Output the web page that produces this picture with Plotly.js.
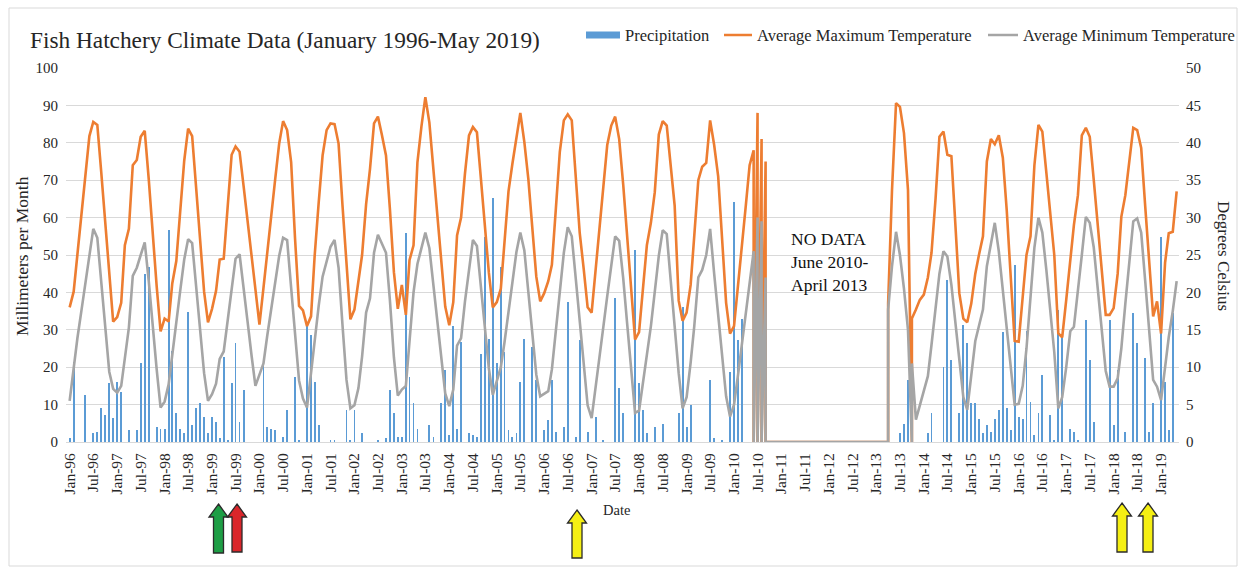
<!DOCTYPE html>
<html>
<head>
<meta charset="utf-8">
<script src="https://cdn.plot.ly/plotly-3.0.1.min.js"></script>
<style>html,body{margin:0;padding:0;background:#fff;} #chart{width:1245px;height:573px;}</style>
</head>
<body>
<div id="chart"></div>
<script>
// ---------- DATA ----------
const firstYear = 1996;
const monthCount = 281; // Jan 1996 .. May 2019
const months = [];
for (let k = 0; k < monthCount; k++) {
  const y = firstYear + Math.floor(k / 12), m = (k % 12) + 1;
  months.push(y + '-' + (m < 10 ? '0' + m : m) + '-01');
}

// Precipitation, mm per month (Jan 1996 .. May 2019)
const precip = [
 1,21.5,0,0,12.6,0,2.3,2.8,9,7.3,15.7,6.4,
 16,13.3,0,3.2,0,3.2,21,45,46.8,0,4,3.6,
 3.6,56.7,24.2,7.7,3.6,2.3,34.8,4.5,9,10.3,6.7,2.3,
 6.7,5.4,1,22.8,0.5,15.7,26.4,5.4,14,0,0,0,
 0,21.5,4,3.6,3.2,0,1.4,8.6,0,17.5,0.5,0,
 31.7,28.6,16,4.5,0,0,0.5,0.5,0,0,8.6,0.5,
 8.6,0,2.3,0,0,0,0.5,0,1,14,7.7,1.4,
 1.4,55.8,17.5,10.3,3.6,0,0,4.5,1.4,0,10.3,19.3,
 1.8,31,3.6,26.7,0,2.3,1.8,1.4,23.5,54.8,27.6,65.2,
 21,46.8,24,3.2,1.4,2.3,16,27.6,0,25.5,16.6,0,
 3.2,5.9,16.6,2.8,0,4,37.5,0,1.4,27.2,0,2.8,
 0,6.7,0,0.5,0,0,38.4,14.4,7.7,0,0,51.3,
 15.7,8.6,2.3,0,4,0,4.9,0,0,0,7.7,36.2,
 4,10,0,0,0,0,16.6,1,0,0.5,0,18.7,
 64.3,27.2,33,0,0,0,0,0,0,0,0,0,
 0,0,0,0,0,0,0,0,0,0,0,0,
 0,0,0,0,0,0,0,0,0,0,0,0,
 0,0,0,0,0,0,2.3,4.9,16.6,0,0,0,
 0,2.3,7.7,0,0,20,43.3,22,0,7.7,31.2,26.4,
 10.3,10.3,6.2,2.3,4.5,2.8,6.2,8.6,29.4,9,3.2,47.3,
 6.7,6.2,29.8,10.7,1.8,7.7,17.8,0,7.3,0.5,35.3,28.6,
 0,3.6,2.8,0.5,0,32.6,22,5.4,0,0,0,32.6,
 4.5,19.3,0,2.8,0,34.4,26.4,0,22.4,2.8,10.3,0,
 54.8,16,3.2,34.4,0
];

// Average maximum temperature, degrees C
const maxTemp = [
 18,20.1,25.1,30.7,36.2,40.9,42.8,42.4,35.9,29,22.3,16.1,
 16.7,18.6,26.3,28.5,37,37.7,40.8,41.6,35.1,27.9,20.8,14.8,
 16.5,16.1,21.2,24.2,30.6,37.6,41.9,40.9,33.9,27,20.1,16,
 17.8,20.2,24.4,24.5,31.5,38.4,39.5,38.8,34.2,29.5,24.9,20.2,
 15.7,20.6,25.5,30.2,35.1,39.9,42.9,41.7,37.4,27.2,18.2,17.6,
 15.5,16.8,24.9,32,38.3,41.7,42.6,42.5,39.9,31.7,23.8,16.4,
 17.7,21.3,25,31.8,36.5,42.6,43.5,41,38.3,31.2,22.7,17.8,
 21,17,24.3,26.3,37.4,42.2,46.1,42.7,36.3,29.7,23.8,18.1,
 15.6,18.7,27.6,30,35.9,41,42.1,41.4,35.1,28.8,22.6,18,
 18.7,20.5,26.9,33.5,37.2,40.8,44,40.1,35.1,28.7,22.1,18.8,
 19.9,21.5,23.7,31.3,38.8,43,43.8,43,35,28,23.1,18,
 17.3,22.8,28.5,34.1,39.7,42.3,43.5,40.5,34.4,27.6,20.5,13.7,
 14.7,20.6,26.3,29.3,33.4,41.1,42.9,42.3,36.9,31.6,18.9,16.2,
 17.3,21,27.6,35,36.8,37.3,43,39.7,35.5,27,18.6,14.5,
 15.5,21,26.5,31.5,37,39,44,40.5,37.5,0,0,0,
 0,0,0,0,0,0,0,0,0,0,0,0,
 0,0,0,0,0,0,0,0,0,0,0,0,
 0,0,0,0,33.7,45.3,44.8,41.3,33.7,0,17.7,19,
 19.7,22,25.3,32.5,40.8,41.5,38.4,38.2,29,19.9,16.5,16,
 18.5,22.5,25,27.5,37.5,40.5,39.8,41,38,31,22,13.5,
 13.4,19,25,27.5,37,42.4,41.5,36,30.5,25,14.5,14,
 19,24.5,29,33,41,42,40.8,35,29,23,17,17,
 17.9,22.5,30.1,33,37.5,42,41.7,39.3,31.5,24,16.8,18.8,
 14.5,24,27.9,28.1,33.5
];

// Average minimum temperature, degrees C
const minTemp = [
 5.5,10.1,13.9,17.6,21.2,24.9,28.5,27.3,21.4,15.3,9.4,7.1,
 6.6,7.5,11.1,15.3,22.2,23.3,25,26.7,21.5,15.5,9.7,4.6,
 5.4,7.7,11.8,16,20.2,24.4,27.1,26.6,20.7,15,9.2,5.5,
 6.4,7.8,11.1,12.1,16.2,20.4,24.5,25.1,20.9,16.2,11.6,7.5,
 9,10.5,14.2,17.7,21.4,24.9,27.3,27,20.6,14.5,8.2,5.8,
 4.6,9.2,13.7,18.2,22.1,24,26.1,27,23.3,15.7,8.3,4.5,
 4.9,7.2,11.4,17.3,19.2,25.3,27.7,26.5,25.3,19,11.3,6.2,
 7,7.5,13.5,20,23.8,26.1,28,25.9,20.9,16.1,11.2,6.5,
 4.8,7,12.9,13.9,18.8,23.1,27,26.2,20.6,15.1,9.8,6.3,
 8,10,13.3,17.3,21.3,25.4,28,25.6,20,14.6,9,6.1,
 6.4,6.8,9.7,14.9,20.1,25.3,28.7,27.5,21.8,16.1,10.6,4.9,
 3.2,7.2,11.3,15.4,19.5,23.6,27.5,26.9,21.9,15.9,9.8,3.9,
 4.2,8,11.7,15.5,20.1,24.9,28.3,27.8,21.5,15.4,9.2,4.5,
 6,10.6,15.5,22,23,25,28.5,22.5,17,11.5,6.1,3.4,
 5,9,13,17,21,25.5,30,29.5,22,0,0,0,
 0,0,0,0,0,0,0,0,0,0,0,0,
 0,0,0,0,0,0,0,0,0,0,0,0,
 0,0,0,0,23.5,28.1,25,20.5,15,0,3,4.8,
 6.8,8.8,13,18.3,22.5,25.5,24.8,21,16,11,6,4.3,
 9,13.5,15.5,17.7,23.5,26.5,29.3,25.5,20.5,15,10,5,
 5.1,7.5,12.5,19,26,30,28,23,17.5,12,4.5,6,
 10,14.8,15.4,20,25,30.1,29.3,26,20.5,15,9.5,7.4,
 7.4,8.5,12.5,18.5,24.4,29.5,29.9,28,21.5,15,8.3,7.4,
 5.6,10,14,17.5,21.5
];

// Months that hold several readings (drawn at the same date)
const multiMonths = ['2010-06-01','2010-07-01','2010-08-01','2010-09-01','2013-04-01','2013-10-01'];
const multiMax = [[0,39,0],[0,44,0],[0,40.5,0],[0,37.5,0],[18.5],[16.5]];
const multiMin = [[0,25.5,0],[0,30,0],[0,29.5,0],[0,22,0],[17.7],[10.5]];

// Legend labels
const seriesNames = ['Precipitation', 'Average Maximum Temperature', 'Average Minimum Temperature'];
const seriesColors = ['#5B9BD5', '#ED7D31', '#A5A5A5'];

// ---------- BUILD ----------
function buildLine(vals, extra) {
  const x = [], y = [];
  for (let k = 0; k < months.length; k++) {
    x.push(months[k]); y.push(vals[k]);
    const j = multiMonths.indexOf(months[k]);
    if (j >= 0) extra[j].forEach(v => { x.push(months[k]); y.push(v); });
  }
  return {x, y};
}
const maxLine = buildLine(maxTemp, multiMax);
const minLine = buildLine(minTemp, multiMin);

const FONT = 'Liberation Serif, Times New Roman, serif';
const TXT = '#262626';

// pixel -> paper helpers for the plot box (l=66, r=1179, t=68, b=442)
const PL = 66, PR = 1179, PT = 68, PB = 442;
const px2x = p => (p - PL) / (PR - PL);
const px2y = p => (PB - p) / (PB - PT);

function arrowPath(cx, top, bottom) {
  const sw = 5, hw = 9.5, hh = 13;
  const pts = [[cx, top],[cx+hw, top+hh],[cx+sw, top+hh],[cx+sw, bottom],[cx-sw, bottom],[cx-sw, top+hh],[cx-hw, top+hh]];
  return 'M' + pts.map(p => px2x(p[0]).toFixed(5) + ',' + px2y(p[1]).toFixed(5)).join(' L') + ' Z';
}
const arrowSpecs = [
  {cx: 218.5, top: 504, bottom: 553, color: '#1e9e45'},
  {cx: 237, top: 504, bottom: 552, color: '#d9262b'},
  {cx: 577, top: 510, bottom: 558, color: '#f5ef13'},
  {cx: 1122, top: 503, bottom: 552, color: '#f5ef13'},
  {cx: 1148, top: 503, bottom: 552, color: '#f5ef13'}
];
const shapes = arrowSpecs.map(a => ({
  type: 'path', xref: 'paper', yref: 'paper', path: arrowPath(a.cx, a.top, a.bottom),
  fillcolor: a.color, line: {color: '#2b2b2b', width: 1.3}
}));
shapes.push({type: 'rect', xref: 'paper', yref: 'paper', layer: 'below',
  x0: px2x(9), x1: px2x(1237), y0: px2y(566), y1: px2y(8),
  line: {color: '#d9d9d9', width: 1}, fillcolor: 'rgba(0,0,0,0)'});

// legend keys (drawn as shapes next to real-text labels)
const legendY = px2y(35);
shapes.push({type: 'rect', xref: 'paper', yref: 'paper', x0: px2x(586), x1: px2x(620), y0: px2y(38.5), y1: px2y(31.5),
  fillcolor: seriesColors[0], line: {width: 0}});
shapes.push({type: 'line', xref: 'paper', yref: 'paper', x0: px2x(724), x1: px2x(752), y0: legendY, y1: legendY,
  line: {color: seriesColors[1], width: 2.5}});
shapes.push({type: 'line', xref: 'paper', yref: 'paper', x0: px2x(988), x1: px2x(1018), y0: legendY, y1: legendY,
  line: {color: seriesColors[2], width: 2.5}});
const legendText = [[seriesNames[0], 623], [seriesNames[1], 755], [seriesNames[2], 1021]].map(d => ({
  text: d[0], xref: 'paper', yref: 'paper', x: px2x(d[1]), y: legendY, xanchor: 'left', yanchor: 'middle',
  showarrow: false, font: {family: FONT, size: 16.5, color: TXT}
}));

const traces = [
  {type: 'bar', name: seriesNames[0], x: months, y: precip, yaxis: 'y',
   marker: {color: seriesColors[0], line: {width: 0}}, width: 14 * 86400000, hoverinfo: 'x+y'},
  {type: 'scatter', mode: 'lines', name: seriesNames[1], x: maxLine.x, y: maxLine.y, yaxis: 'y2',
   line: {color: seriesColors[1], width: 2.6}},
  {type: 'scatter', mode: 'lines', name: seriesNames[2], x: minLine.x, y: minLine.y, yaxis: 'y2',
   line: {color: seriesColors[2], width: 2.6}}
];

const layout = {
  width: 1245, height: 573,
  margin: {l: PL, r: 1245 - PR, t: PT, b: 573 - PB, pad: 0},
  paper_bgcolor: '#ffffff', plot_bgcolor: '#ffffff',
  font: {family: FONT, color: TXT, size: 14},
  title: {text: 'Fish Hatchery Climate Data (January 1996-May 2019)', xref: 'container', yref: 'container',
          x: 30 / 1245, xanchor: 'left', y: 1 - 40 / 573, yanchor: 'middle',
          font: {family: FONT, size: 23.3, color: TXT}},
  showlegend: false,
  bargap: 0,
  xaxis: {type: 'date', range: ['1995-12-04', '2019-05-19'], tick0: '1996-01-01', dtick: 'M6',
          tickformat: '%b-%y', tickangle: -90, tickfont: {family: FONT, size: 15.5, color: TXT},
          showgrid: false, showline: true, linecolor: '#d9d9d9', linewidth: 1, ticks: '', zeroline: false,
          ticklabelstandoff: 4},
  yaxis: {range: [0, 100], dtick: 10, showgrid: true, gridcolor: '#d9d9d9', gridwidth: 1,
          tickfont: {family: FONT, size: 15, color: TXT}, zeroline: false, ticks: '', ticklabelstandoff: 7},
  yaxis2: {range: [0, 50], dtick: 5, overlaying: 'y', side: 'right', showgrid: false, zeroline: false,
           tickfont: {family: FONT, size: 15, color: TXT}, ticks: '', ticklabelstandoff: 6},
  shapes: shapes,
  annotations: legendText.concat([
    {text: 'NO DATA<br>June 2010-<br>April 2013', xref: 'paper', yref: 'paper', x: px2x(789), y: px2y(262),
     xanchor: 'left', yanchor: 'middle', align: 'left', showarrow: false, font: {family: FONT, size: 17.5, color: '#111'}},
    {text: 'Date', xref: 'paper', yref: 'paper', x: px2x(616), y: px2y(510), xanchor: 'center', yanchor: 'middle',
     showarrow: false, font: {family: FONT, size: 14.5, color: TXT}},
    {text: 'Millimeters per Month', xref: 'paper', yref: 'paper', x: px2x(22), y: px2y(256), textangle: -90,
     xanchor: 'center', yanchor: 'middle', showarrow: false, font: {family: FONT, size: 17.5, color: TXT}},
    {text: 'Degrees Celsius', xref: 'paper', yref: 'paper', x: px2x(1224), y: px2y(256), textangle: 90,
     xanchor: 'center', yanchor: 'middle', showarrow: false, font: {family: FONT, size: 17, color: TXT}}
  ])
};

Plotly.newPlot('chart', traces, layout, {displayModeBar: false, staticPlot: true});
</script>
</body>
</html>
